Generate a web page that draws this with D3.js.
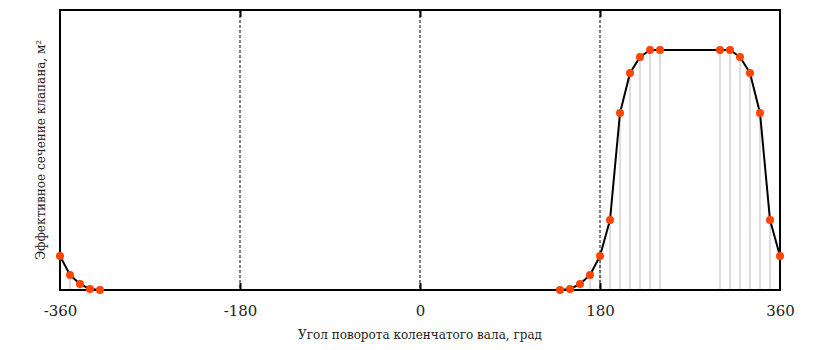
<!DOCTYPE html>
<html>
<head>
<meta charset="utf-8">
<script src="https://cdn.jsdelivr.net/npm/d3@7"></script>
<style>
  body { margin: 0; background: #fff; }
</style>
</head>
<body>
<div id="chart"></div>
<script>
// crank angle, degrees
var angles_left = [-360, -350, -340, -330, -320];
var area_left = [0.142, 0.0625, 0.025, 0.004, 0];

var angles_right = [140, 150, 160, 170, 180, 190, 200, 210, 220, 230, 240,
                    300, 310, 320, 330, 340, 350, 360];
var area_right = [0, 0.004, 0.025, 0.0625, 0.142, 0.292, 0.7375, 0.904, 0.971, 1.0, 1.0,
                  1.0, 1.0, 0.971, 0.904, 0.7375, 0.292, 0.142];

var tick_values = [-360, -180, 0, 180, 360];
var inner_marks = [-180, 0, 180];

var width = 840, height = 350;
var margin = {left: 60, right: 60, top: 10, bottom: 60};

var svg = d3.select("#chart").append("svg")
    .attr("width", width)
    .attr("height", height);

var x = d3.scaleLinear().domain([-360, 360]).range([margin.left, width - margin.right]);
var y = d3.scaleLinear().domain([0, 280 / 240]).range([height - margin.bottom, margin.top]);

var y0 = y(0), y1 = y.range()[1];

function toPoints(xs, ys) {
    return xs.map(function (a, i) { return {a: a, v: ys[i]}; });
}
var left = toPoints(angles_left, area_left);
var right = toPoints(angles_right, area_right);
var all = left.concat(right);

// grey drop lines
svg.append("g").selectAll("line")
    .data(all)
    .enter().append("line")
    .attr("x1", function (d) { return x(d.a); })
    .attr("x2", function (d) { return x(d.a); })
    .attr("y1", function (d) { return y(d.v); })
    .attr("y2", y0)
    .attr("stroke", "#bbb")
    .attr("stroke-width", 1);

// dashed markers
svg.append("g").selectAll("line")
    .data(inner_marks)
    .enter().append("line")
    .attr("x1", function (d) { return x(d); })
    .attr("x2", function (d) { return x(d); })
    .attr("y1", y1)
    .attr("y2", y0)
    .attr("stroke", "#000")
    .attr("stroke-width", 1)
    .attr("stroke-dasharray", "3,2");

// frame
svg.append("rect")
    .attr("x", x(-360))
    .attr("y", y1)
    .attr("width", x(360) - x(-360))
    .attr("height", y0 - y1)
    .attr("fill", "none")
    .attr("stroke", "#000")
    .attr("stroke-width", 2);

// inner ticks on top and bottom
var bottomAxis = d3.axisBottom(x).tickValues(inner_marks).tickSize(-7).tickFormat("");
var topAxis = d3.axisTop(x).tickValues(inner_marks).tickSize(-7).tickFormat("");
svg.append("g").attr("transform", "translate(0," + y0 + ")").call(bottomAxis)
    .call(function (g) { g.select(".domain").remove(); g.selectAll("line").attr("stroke-width", 2); });
svg.append("g").attr("transform", "translate(0," + y1 + ")").call(topAxis)
    .call(function (g) { g.select(".domain").remove(); g.selectAll("line").attr("stroke-width", 2); });

// tick labels
var labelAxis = d3.axisBottom(x).tickValues(tick_values).tickSize(0).tickPadding(15)
    .tickFormat(function (d) { return String(d); });
svg.append("g").attr("transform", "translate(0," + y0 + ")").call(labelAxis)
    .call(function (g) {
        g.select(".domain").remove();
        g.selectAll("text")
            .attr("font-family", "'DejaVu Serif', serif")
            .attr("font-size", 15)
            .attr("fill", "#222");
    });

// curve
var line = d3.line()
    .x(function (d) { return x(d.a); })
    .y(function (d) { return y(d.v); });

[left, right].forEach(function (seg) {
    svg.append("path")
        .datum(seg)
        .attr("d", line)
        .attr("fill", "none")
        .attr("stroke", "#000")
        .attr("stroke-width", 2)
        .attr("stroke-linejoin", "round");
});

svg.append("g").selectAll("circle")
    .data(all)
    .enter().append("circle")
    .attr("cx", function (d) { return x(d.a); })
    .attr("cy", function (d) { return y(d.v); })
    .attr("r", 4)
    .attr("fill", "#ff4500");

// axis titles
svg.append("text")
    .attr("x", (x(-360) + x(360)) / 2)
    .attr("y", 339)
    .attr("text-anchor", "middle")
    .attr("font-family", "'DejaVu Serif', serif")
    .attr("font-size", 12)
    .attr("fill", "#222")
    .text("Угол поворота коленчатого вала, град");

svg.append("text")
    .attr("transform", "translate(45," + ((y0 + y1) / 2) + ") rotate(-90)")
    .attr("text-anchor", "middle")
    .attr("font-family", "'DejaVu Serif', serif")
    .attr("font-size", 12)
    .attr("fill", "#222")
    .text("Эффективное сечение клапана, м²");
</script>
</body>
</html>
